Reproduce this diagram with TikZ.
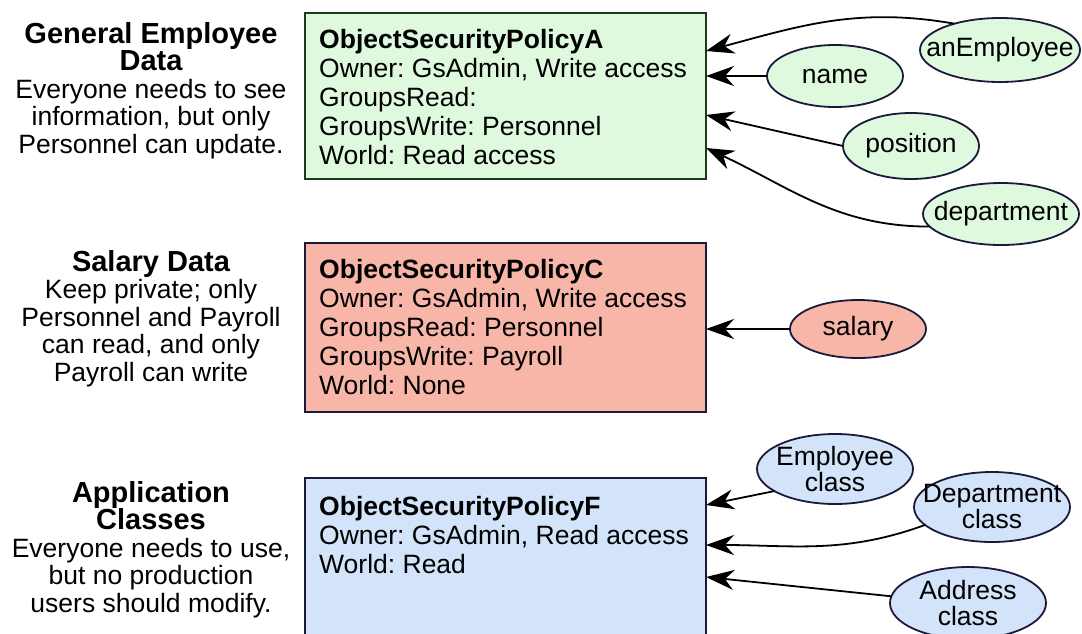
\documentclass[tikz,border=0pt]{standalone}
\usepackage{fontspec}
\setmainfont{Liberation Sans}
\usetikzlibrary{shapes.geometric,arrows.meta}
\frenchspacing
\definecolor{greenfill}{HTML}{DFF9DF}
\definecolor{greenline}{HTML}{1E3A1E}
\definecolor{redfill}{HTML}{F8B6A8}
\definecolor{bluefill}{HTML}{D3E3F9}
\definecolor{navyline}{HTML}{1A1A3A}
\newcommand{\headline}[1]{{\fontsize{29}{28}\selectfont\bfseries #1}}
\newcommand{\fieldline}[1]{\makebox[0pt]{#1}}
\tikzstyle{policy}=[draw=navyline, line width=1.8pt, anchor=north west,
                    inner sep=0pt, outer sep=0pt, minimum width=401pt]
\tikzstyle{policytext}=[anchor=north west, inner sep=0pt, align=left,
                        font=\fontsize{26.5}{29}\selectfont]
\tikzstyle{heading}=[anchor=north, inner sep=0pt, align=center,
                     font=\fontsize{26.5}{27.5}\selectfont]
\tikzstyle{field}=[ellipse, draw=navyline, line width=1.8pt,
                   inner sep=0pt, outer sep=0pt, align=center,
                   font=\fontsize{26.5}{26}\selectfont]
\tikzstyle{edge}=[-{Stealth[length=28pt,width=20pt,inset=9pt]},
                  line width=1.8pt]

\begin{document}
\begin{tikzpicture}[x=1pt, y=1pt]
    \clip (0,0) rectangle (1082,-633);
    % headings on the left
    \node (hA) at (151,-22)  [heading]{\headline{General Employee}\\\headline{Data}\\Everyone needs to see\\information, but only\\Personnel can update.};
    \node (hC) at (151,-250) [heading]{\headline{Salary Data}\\Keep private; only\\Personnel and Payroll\\can read, and only\\Payroll can write};
    \node (hF) at (151,-481) [heading]{\headline{Application}\\\headline{Classes}\\Everyone needs to use,\\but no production\\users should modify.};

    % policies
    \node (pA) at (305,-13)  [policy, draw=greenline, fill=greenfill, minimum height=166pt]{};
    \node (pC) at (305,-243) [policy, fill=redfill, minimum height=169pt]{};
    \node (pF) at (305,-478) [policy, fill=bluefill, minimum height=170pt]{};
    \node (tA) at (319,-29)  [policytext]{\textbf{ObjectSecurityPolicyA}\\Owner: GsAdmin, Write access\\GroupsRead:\\GroupsWrite: Personnel\\World: Read access};
    \node (tC) at (319,-259) [policytext]{\textbf{ObjectSecurityPolicyC}\\Owner: GsAdmin, Write access\\GroupsRead: Personnel\\GroupsWrite: Payroll\\World: None};
    \node (tF) at (319,-496) [policytext]{\textbf{ObjectSecurityPolicyF}\\Owner: GsAdmin, Read access\\World: Read};

    % objects
    \node (emp)     at (1000,-50)  [field, fill=greenfill, minimum width=160pt, minimum height=64pt]{\fieldline{anEmployee}};
    \node (name)    at (835,-76)   [field, fill=greenfill, minimum width=136pt, minimum height=62pt]{\fieldline{name}};
    \node (pos)     at (911,-146)  [field, fill=greenfill, minimum width=136pt, minimum height=66pt]{\fieldline{position}};
    \node (dept)    at (1001,-214) [field, fill=greenfill, minimum width=156pt, minimum height=62pt]{\fieldline{department}};
    \node (salary)  at (858,-329)  [field, fill=redfill, minimum width=136pt, minimum height=58pt]{\fieldline{salary}};
    \node (empcls)  at (835,-469)  [field, fill=bluefill, minimum width=156pt, minimum height=70pt]{\fieldline{Employee}\\\fieldline{class}};
    \node (deptcls) at (992,-507)  [field, fill=bluefill, minimum width=156pt, minimum height=70pt]{\fieldline{Department}\\\fieldline{class}};
    \node (addrcls) at (968,-603)  [field, fill=bluefill, minimum width=156pt, minimum height=72pt]{\fieldline{Address}\\\fieldline{class}};

    \draw [edge] (emp.150) to[out=170, in=15] ([yshift=-38pt]pA.north east);
    \draw [edge] (name.west) -- (name.west -| pA.east);
    \draw [edge] (pos.west) -- ([yshift=-102pt]pA.north east);
    \draw [edge] (dept.190) to[out=180, in=-25] ([yshift=-135pt]pA.north east);
    \draw [edge] (salary.west) -- (salary.west -| pC.east);
    \foreach \u/\d in {empcls.200/27, addrcls.175/99}
      \draw [edge] (\u) -- ([yshift=-\d pt]pF.north east);
    \draw [edge] (deptcls.195) to[out=200, in=0] ([yshift=-67pt]pF.north east);
\end{tikzpicture}
\end{document}
